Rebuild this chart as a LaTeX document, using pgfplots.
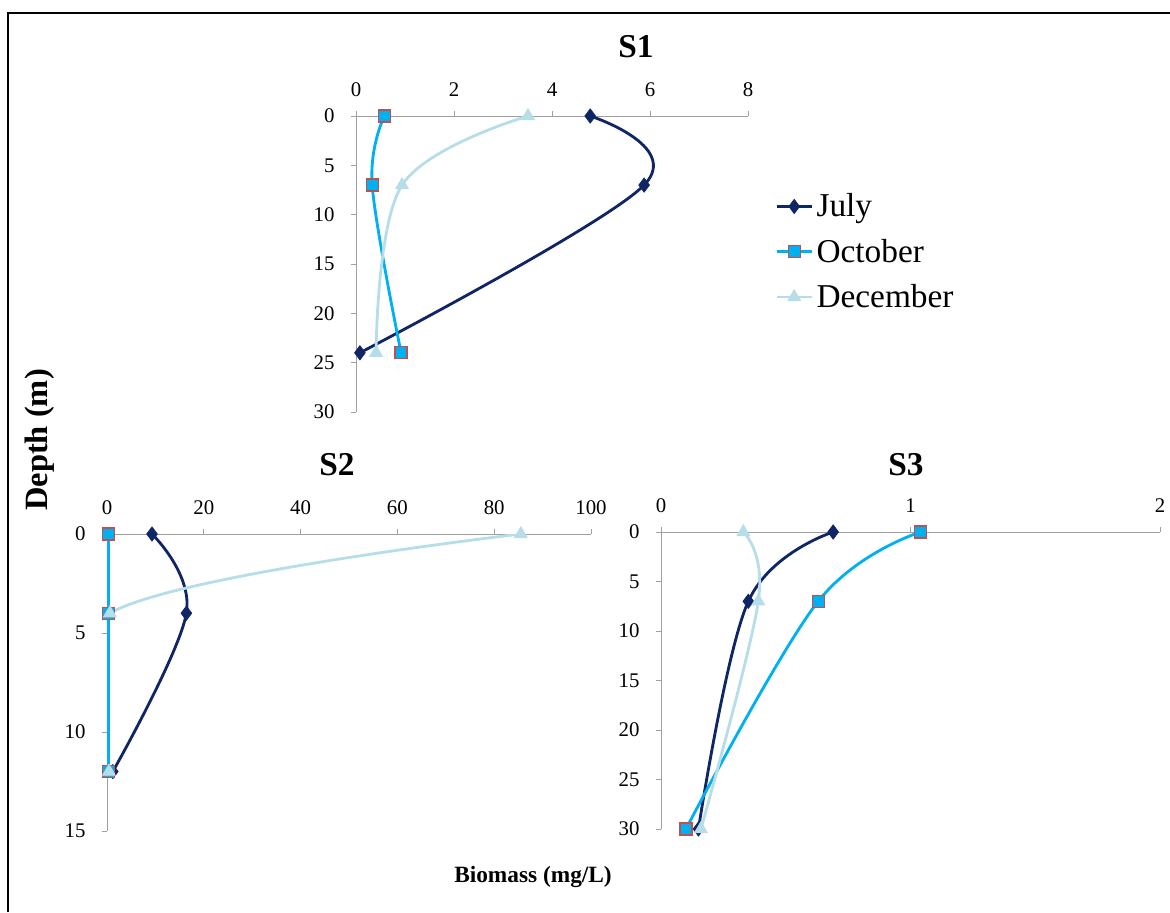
\documentclass[border=0pt]{standalone}
\usepackage{pgfplots}
\pgfplotsset{compat=1.18}
\usepackage{fontspec}
\setmainfont{Liberation Serif}
\definecolor{cjul}{RGB}{16,37,102}
\definecolor{coct}{RGB}{0,176,240}
\definecolor{coctedge}{RGB}{192,80,77}
\definecolor{cdec}{RGB}{183,222,232}
\definecolor{axgray}{RGB}{160,160,160}
\pgfplotsset{
  every axis/.append style={
    scale only axis,
    axis x line=top, axis y line=left,
    axis line style={axgray,-},
    y dir=reverse,
    tick align=outside,
    major tick length=3pt,
    every tick/.style={axgray},
    tick label style={font=\fontsize{12.5}{14}\selectfont},
    xticklabel style={yshift=5pt},
    yticklabel style={xshift=-6.4pt},
    /pgf/number format/assume math mode=true,
    clip=false,
  },
  sjul/.style={color=cjul, line width=1.7pt, smooth, tension=0.6, mark=diamond*, mark size=4.3pt, mark options={fill=cjul, draw=cjul, line width=0.4pt}},
  soct/.style={color=coct, line width=1.7pt, smooth, tension=0.6, mark=square*, mark size=3.6pt, mark options={fill=coct, draw=coctedge, line width=0.7pt}},
  sdec/.style={color=cdec, line width=1.7pt, smooth, tension=0.6, mark=triangle*, mark size=4.5pt, mark options={fill=cdec, draw=cdec, line width=0.4pt}},
}
\begin{document}
\begin{tikzpicture}
\useasboundingbox (0,0) rectangle (702pt,547.2pt);
\draw[line width=1.5pt] (4.8pt,0pt) -- (4.8pt,539.4pt) -- (702pt,539.4pt);
% S1
\begin{axis}[at={(213.6pt,300pt)}, anchor=south west, width=235.2pt, height=177.6pt,
  xmin=0, xmax=8, ymin=0, ymax=30, xtick={0,2,4,6,8}, ytick={0,5,10,15,20,25,30},
  legend style={at={(axis cs:8.55,7.5)}, anchor=north west, draw=none, fill=none,
    font=\fontsize{20}{24}\selectfont, row sep=7.8pt, inner xsep=0pt, inner ysep=0pt,
    nodes={inner xsep=2pt}},
  legend cell align=left,
  legend image code/.code={\draw[mark repeat=2,mark phase=2,#1] plot coordinates {(0cm,0cm) (0.37cm,0cm) (0.74cm,0cm)};},
]
\addplot[sjul] coordinates {(4.78,0) (5.88,7) (0.08,24)};
\addplot[soct] coordinates {(0.58,0) (0.33,7) (0.92,24)};
\addplot[sdec] coordinates {(3.51,0) (0.94,7) (0.41,24)};
\legend{July,October,December}
\end{axis}
% S2
\begin{axis}[at={(64.2pt,48.6pt)}, anchor=south west, width=290.4pt, height=178.2pt,
  xmin=0, xmax=100, ymin=0, ymax=15, xtick={0,20,40,60,80,100}, ytick={0,5,10,15},
  clip=true, clip marker paths=false]
\addplot[sjul] coordinates {(9.3,0) (16.4,4) (1.2,12)};
\addplot[soct] coordinates {(0.3,0) (0.3,4) (0.3,12)};
\addplot[sdec] coordinates {(85.5,0) (0.6,4) (0.4,12)};
\end{axis}
% S3
\begin{axis}[at={(396.6pt,49.8pt)}, anchor=south west, width=299.4pt, height=178.2pt,
  xmin=0, xmax=2, ymin=0, ymax=30, xtick={0,1,2}, ytick={0,5,10,15,20,25,30}]
\addplot[sjul] coordinates {(0.69,0) (0.35,7) (0.15,30)};
\addplot[soct] coordinates {(1.04,0) (0.63,7) (0.10,30)};
\addplot[sdec] coordinates {(0.33,0) (0.39,7) (0.16,30)};
\end{axis}
\node[font=\bfseries\fontsize{20}{24}\selectfont] at (381.6pt,519pt) {S1};
\node[font=\bfseries\fontsize{20}{24}\selectfont] at (202.2pt,268.2pt) {S2};
\node[font=\bfseries\fontsize{20}{24}\selectfont] at (543.6pt,268.2pt) {S3};
\node[font=\bfseries\fontsize{19.5}{23}\selectfont, rotate=90] at (24pt,283.2pt) {Depth (m)};
\node[font=\bfseries\fontsize{14}{17}\selectfont] at (319.8pt,21pt) {Biomass (mg/L)};
\end{tikzpicture}
\end{document}
